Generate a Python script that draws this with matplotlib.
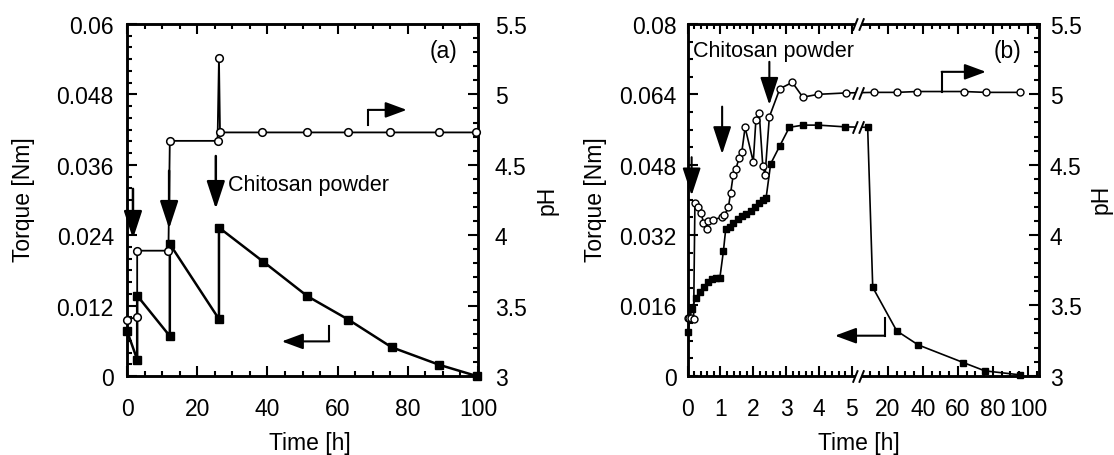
import numpy as np
import matplotlib
matplotlib.use('Agg')
import matplotlib.pyplot as plt
from matplotlib.path import Path
from matplotlib.ticker import FixedLocator, FixedFormatter, MultipleLocator
from matplotlib.scale import FuncScale

plt.rcParams['font.family'] = ['Liberation Sans', 'DejaVu Sans']

# ---------------- data: panel (a) ----------------
a_torque_time = [0, 2.9, 2.9, 12.2, 12.2, 26.2, 26.2, 38.8, 51.4, 63.1, 75.4, 89.0, 99.6]
a_torque = [0.0077, 0.0028, 0.0137, 0.0068, 0.0225, 0.0097, 0.0253, 0.0195,
            0.0136, 0.0096, 0.0049, 0.0019, 0.0]
a_ph_time = [0, 2.9, 2.9, 11.8, 12.2, 25.8, 26.2, 26.5, 38.5, 51.4, 63.1, 75.0, 89.0, 99.5]
a_ph = [3.40, 3.42, 3.89, 3.89, 4.67, 4.67, 5.26, 4.73, 4.73, 4.73, 4.73, 4.73, 4.73, 4.73]

a_xticks = [0, 20, 40, 60, 80, 100]
a_xticklabels = ['0', '20', '40', '60', '80', '100']
a_yticks = [0, 0.012, 0.024, 0.036, 0.048, 0.06]
a_yticklabels = ['0', '0.012', '0.024', '0.036', '0.048', '0.06']

# ---------------- data: panel (b) ----------------
b_torque_time = [0, 0.12, 0.25, 0.37, 0.5, 0.63, 0.73, 0.85, 0.98, 1.09, 1.16, 1.29, 1.39,
                 1.52, 1.65, 1.78, 1.92, 2.05, 2.18, 2.29, 2.39, 2.53, 2.81, 3.1, 3.52,
                 3.98, 4.8, 8.4, 11.3, 25.0, 37.3, 63.0, 75.4, 95.4]
b_torque = [0.0099, 0.0152, 0.0177, 0.019, 0.0201, 0.0214, 0.022, 0.0222, 0.0222, 0.0284,
            0.0334, 0.0338, 0.0347, 0.0356, 0.0364, 0.0368, 0.0375, 0.0383, 0.0393, 0.040,
            0.0404, 0.0482, 0.0523, 0.0565, 0.057, 0.057, 0.0566, 0.0565, 0.0201, 0.0102,
            0.0070, 0.0030, 0.0011, 0.0002]
b_ph_time = [0, 0.05, 0.1, 0.18, 0.22, 0.32, 0.41, 0.48, 0.58, 0.63, 0.78, 1.04, 1.12,
             1.24, 1.31, 1.39, 1.47, 1.57, 1.65, 1.75, 2.0, 2.08, 2.18, 2.29, 2.36, 2.49,
             2.81, 3.19, 3.51, 3.98, 4.82, 12.2, 25.0, 36.7, 63.4, 75.8, 95.4]
b_ph = [3.41, 3.41, 3.41, 3.40, 4.23, 4.20, 4.16, 4.085, 4.04, 4.10, 4.11, 4.125, 4.14,
        4.197, 4.30, 4.43, 4.47, 4.55, 4.59, 4.765, 4.52, 4.82, 4.87, 4.49, 4.43, 4.84,
        5.04, 5.085, 4.98, 5.0, 5.01, 5.014, 5.014, 5.02, 5.02, 5.014, 5.014]

b_xticks = [0, 1, 2, 3, 4, 5, 20, 40, 60, 80, 100]
b_xticklabels = ['0', '1', '2', '3', '4', '5', '20', '40', '60', '80', '100']
b_yticks = [0, 0.016, 0.032, 0.048, 0.064, 0.08]
b_yticklabels = ['0', '0.016', '0.032', '0.048', '0.064', '0.08']

ph_ticks = [3, 3.5, 4, 4.5, 5, 5.5]
ph_ticklabels = ['3', '3.5', '4', '4.5', '5', '5.5']

FS = 16.5
W, H = 1114, 456
fig = plt.figure(figsize=(W / 100, H / 100), dpi=100)


def style(ax, twin, ylab_pad, rlab_pad):
    for a in (ax, twin):
        for s in a.spines.values():
            s.set_linewidth(1.8)
    ax.tick_params(which='both', direction='in', top=True, bottom=True, left=True,
                   right=False, width=1.5, labelsize=FS)
    ax.tick_params(which='major', length=7)
    ax.tick_params(which='minor', length=3.5)
    ax.tick_params(axis='y', pad=ylab_pad)
    ax.tick_params(axis='x', pad=15)
    twin.tick_params(which='both', direction='in', right=True, left=False, width=1.5,
                     labelsize=FS, pad=rlab_pad)
    twin.tick_params(which='major', length=7)
    twin.tick_params(which='minor', length=3.5)


arrow_kw = dict(arrowstyle='-|>,head_length=0.85,head_width=0.28', color='k', lw=1.8,
                mutation_scale=20, shrinkA=0, shrinkB=0)
larrow_kw = dict(arrowstyle='-|>,head_length=0.65,head_width=0.24', color='k', lw=1.5,
                 mutation_scale=20, shrinkA=0, shrinkB=0)

# ================= panel (a) =================
axA = fig.add_axes([127 / W, (H - 377) / H, 351 / W, 352 / H])
axA2 = axA.twinx()
axA.set_xlim(0, 100)
axA.set_ylim(0, 0.06)
axA2.set_ylim(3, 5.5)
axA.xaxis.set_major_locator(FixedLocator(a_xticks))
axA.xaxis.set_major_formatter(FixedFormatter(a_xticklabels))
axA.xaxis.set_minor_locator(MultipleLocator(5))
axA.yaxis.set_major_locator(FixedLocator(a_yticks))
axA.yaxis.set_major_formatter(FixedFormatter(a_yticklabels))
axA.yaxis.set_minor_locator(MultipleLocator(0.002))
axA2.yaxis.set_major_locator(FixedLocator(ph_ticks))
axA2.yaxis.set_major_formatter(FixedFormatter(ph_ticklabels))
axA2.yaxis.set_minor_locator(MultipleLocator(0.1))
style(axA, axA2, 9.5, 12)

axA.plot(a_torque_time, a_torque, '-', color='k', lw=1.8, marker='s', ms=6,
         mfc='k', mec='k', zorder=3, clip_on=False)
axA2.plot(a_ph_time, a_ph, '-', color='k', lw=1.3, marker='o', ms=5.5,
          mfc='white', mec='k', mew=1.1, zorder=3, clip_on=False)

for x, y0, y1 in [(1.7, 0.0319, 0.0234), (12.0, 0.035, 0.0251), (25.3, 0.0375, 0.0285)]:
    axA.annotate('', xy=(x, y1), xytext=(x, y0), arrowprops=arrow_kw)
axA.text(28.8, 0.0327, 'Chitosan powder', fontsize=15.5, ha='left', va='center')
axA.text(90.3, 0.0554, '(a)', fontsize=FS, ha='center', va='center')

# pH indicator (right)
axA2.plot([68.7, 68.7], [4.78, 4.89], color='k', lw=1.5)
axA2.annotate('', xy=(79.7, 4.89), xytext=(68.7, 4.89), arrowprops=larrow_kw)
# torque indicator (left)
axA.plot([57.6, 57.6], [0.0086, 0.0059], color='k', lw=1.5)
axA.annotate('', xy=(44.1, 0.0059), xytext=(57.6, 0.0059), arrowprops=larrow_kw)

axA.text(0.521, -0.2074, 'Time [h]', transform=axA.transAxes, fontsize=FS,
         ha='center', va='baseline')
axA.text(-0.296, 0.503, 'Torque [Nm]', transform=axA.transAxes, fontsize=FS,
         ha='center', va='center', rotation=90)
axA.text(1.197, 0.503, 'pH', transform=axA.transAxes, fontsize=FS,
         ha='center', va='center', rotation=90)

# ================= panel (b) =================
B = 5.2          # break position (h)
K = 1.75 / 32.8  # compression of right segment
GAP = 0.117


def fwd(h):
    h = np.asarray(h, dtype=float)
    return np.where(h <= B, h, B + GAP + (h - B) * K)


def inv(u):
    u = np.asarray(u, dtype=float)
    return np.where(u <= B, u, np.where(u >= B + GAP, B + (u - B - GAP) / K, B))


axB = fig.add_axes([687.7 / W, (H - 376.7) / H, 351.6 / W, 351.7 / H])
axB.set_xscale(FuncScale(axB, (fwd, inv)))
axB2 = axB.twinx()
axB.set_xlim(0, 106.5)
axB.set_ylim(0, 0.08)
axB2.set_ylim(3, 5.5)
axB.xaxis.set_major_locator(FixedLocator(b_xticks))
axB.xaxis.set_major_formatter(FixedFormatter(b_xticklabels))
minor_b = [v for v in np.round(np.arange(0.2, 5.2, 0.2), 2) if abs(v - round(v)) > 1e-6]
minor_b += [10, 15, 25, 30, 35, 45, 50, 55, 65, 70, 75, 85, 90, 95, 105]
axB.xaxis.set_minor_locator(FixedLocator(minor_b))
axB.yaxis.set_major_locator(FixedLocator(b_yticks))
axB.yaxis.set_major_formatter(FixedFormatter(b_yticklabels))
axB.yaxis.set_minor_locator(MultipleLocator(0.004))
axB2.yaxis.set_major_locator(FixedLocator(ph_ticks))
axB2.yaxis.set_major_formatter(FixedFormatter(ph_ticklabels))
axB2.yaxis.set_minor_locator(MultipleLocator(0.1))
style(axB, axB2, 7.8, 7.7)

axB.plot(b_torque_time, b_torque, '-', color='k', lw=1.2, zorder=2, clip_on=False)
axB.plot(b_torque_time, b_torque, 's', color='k', ms=5, zorder=4, clip_on=False)
axB2.plot(b_ph_time, b_ph, '-', color='k', lw=1.2, zorder=2, clip_on=False)
axB2.plot(b_ph_time, b_ph, 'o', mfc='white', mec='k', mew=1.0, ms=5, zorder=4,
          clip_on=False)

# break marks
slash = Path([(-0.45, -0.5), (-0.05, 0.5), (0.05, -0.5), (0.45, 0.5)],
             [Path.MOVETO, Path.LINETO, Path.MOVETO, Path.LINETO])
blank = Path([(-0.45, -0.5), (0.05, -0.5), (0.45, 0.5), (-0.05, 0.5), (-0.45, -0.5)],
             [Path.MOVETO, Path.LINETO, Path.LINETO, Path.LINETO, Path.CLOSEPOLY])


def brk(ax, x, y, transform, z=3):
    ax.plot([x], [y], marker=blank, ms=9, mfc='white', mec='none', ls='none',
            transform=transform, zorder=z, clip_on=False)
    ax.plot([x], [y], marker=slash, ms=9, mec='k', mew=1.4, ls='none',
            transform=transform, zorder=z + 0.1, clip_on=False)


for yy in (0, 1):
    brk(axB2, B, yy, axB2.get_xaxis_transform(), z=10)
yt = np.interp(fwd(B), fwd(b_torque_time), b_torque)
yp = np.interp(fwd(B), fwd(b_ph_time), b_ph)
brk(axB, B, yt, axB.transData)
brk(axB2, B, yp, axB2.transData)

arrow_kw_b = dict(arrowstyle='-|>,head_length=0.85,head_width=0.28', color='k', lw=1.5,
                  mutation_scale=20, shrinkA=0, shrinkB=0)
for x, y0, y1 in [(0.12, 0.0497, 0.041), (1.05, 0.0612, 0.0504), (2.49, 0.0714, 0.0616)]:
    axB.annotate('', xy=(x, y1), xytext=(x, y0), arrowprops=arrow_kw_b)
axB.text(0.15, 0.0739, 'Chitosan powder', fontsize=15.5, ha='left', va='center')
axB.text(88.3, 0.0739, '(b)', fontsize=FS, ha='center', va='center')

axB2.plot([50.7, 50.7], [5.02, 5.16], color='k', lw=1.5)
axB2.annotate('', xy=(76, 5.16), xytext=(50.7, 5.16), arrowprops=larrow_kw)
axB.plot([18.3, 18.3], [0.0131, 0.0091], color='k', lw=1.5)
axB.annotate('', xy=(4.49, 0.0091), xytext=(18.3, 0.0091), arrowprops=larrow_kw)

axB.text((859 - 687.7) / 351.6, -0.2074, 'Time [h]', transform=axB.transAxes,
         fontsize=FS, ha='center', va='baseline')
axB.text(-0.261, 0.503, 'Torque [Nm]', transform=axB.transAxes, fontsize=FS,
         ha='center', va='center', rotation=90)
axB.text(1.177, 0.503, 'pH', transform=axB.transAxes, fontsize=FS,
         ha='center', va='center', rotation=90)

fig.savefig('out.png', dpi=100)
